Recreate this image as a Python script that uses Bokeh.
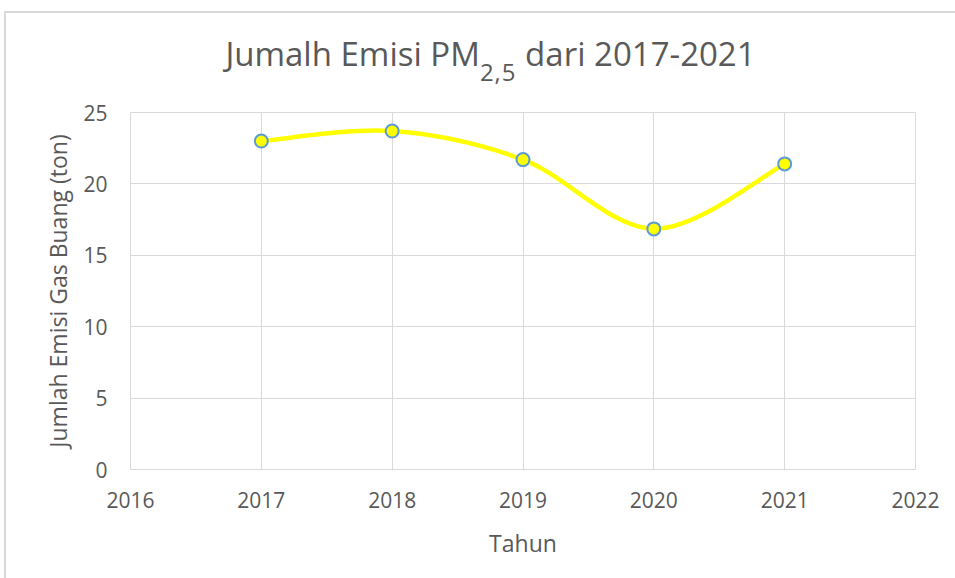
from bokeh.plotting import figure
from bokeh.models import Range1d, FixedTicker, Div
from bokeh.layouts import column
from bokeh.embed import file_html
from bokeh.resources import INLINE

# ---- data ----
years = [2017, 2018, 2019, 2020, 2021]
emisi = [23.0, 23.7, 21.7, 16.85, 21.4]
x_ticks = [2016, 2017, 2018, 2019, 2020, 2021, 2022]
y_ticks = [0, 5, 10, 15, 20, 25]
title_main = "Jumalh Emisi PM"
title_sub = "2,5"
title_rest = "dari 2017-2021"
x_label = "Tahun"
y_label = "Jumlah Emisi Gas Buang (ton)"

FONT = "Open Sans"
TXT = "#595959"
GRID = "#d9d9d9"

title_div = Div(
    text=(f'<div style="font-family:\'{FONT}\';font-size:33px;line-height:33px;color:{TXT};'
          f'text-align:center;width:914px;padding-top:24px;padding-left:35px;white-space:nowrap;'
          f'position:relative;left:10px;">'
          f'{title_main}<span style="font-size:24px;letter-spacing:1px;position:relative;top:15px;">'
          f'{title_sub}</span> {title_rest}</div>'),
    width=949, height=80, margin=0)

p = figure(width=949, height=485, output_backend="svg", toolbar_location=None,
           x_range=Range1d(2016, 2022), y_range=Range1d(0, 25),
           min_border_left=124, min_border_right=40, min_border_top=19, min_border_bottom=109,
           margin=0)
p.title = None
p.outline_line_color = GRID
p.outline_line_width = 1

for ax in (p.xaxis[0], p.yaxis[0]):
    ax.axis_line_color = None
    ax.major_tick_line_color = None
    ax.minor_tick_line_color = None
    ax.major_label_text_font = FONT
    ax.major_label_text_color = TXT
    ax.major_label_text_font_size = "21px"
    ax.axis_label_text_font = FONT
    ax.axis_label_text_color = TXT
    ax.axis_label_text_font_size = "23px"
    ax.axis_label_text_font_style = "normal"

p.xaxis.ticker = FixedTicker(ticks=x_ticks)
p.yaxis.ticker = FixedTicker(ticks=y_ticks)
p.xaxis.axis_label = x_label
p.yaxis.axis_label = y_label
p.xaxis.major_label_standoff = 16
p.yaxis.major_label_standoff = 17
p.xaxis.axis_label_standoff = 16
p.yaxis.axis_label_standoff = 6

p.xgrid.grid_line_color = GRID
p.ygrid.grid_line_color = GRID
p.xgrid.ticker = FixedTicker(ticks=x_ticks)
p.ygrid.ticker = FixedTicker(ticks=y_ticks)

# smoothed line (cardinal / Catmull-Rom style bezier, like Excel smoothing)
n = len(years)
x0s, y0s, x1s, y1s, cx0s, cy0s, cx1s, cy1s = [], [], [], [], [], [], [], []
for i in range(n - 1):
    xm1, ym1 = (years[i - 1], emisi[i - 1]) if i > 0 else (years[i], emisi[i])
    xp2, yp2 = (years[i + 2], emisi[i + 2]) if i + 2 < n else (years[i + 1], emisi[i + 1])
    x0s.append(years[i]); y0s.append(emisi[i])
    x1s.append(years[i + 1]); y1s.append(emisi[i + 1])
    cx0s.append(years[i] + (years[i + 1] - xm1) / 6)
    cy0s.append(emisi[i] + (emisi[i + 1] - ym1) / 6)
    cx1s.append(years[i + 1] - (xp2 - years[i]) / 6)
    cy1s.append(emisi[i + 1] - (yp2 - emisi[i]) / 6)
p.bezier(x0=x0s, y0=y0s, x1=x1s, y1=y1s, cx0=cx0s, cy0=cy0s, cx1=cx1s, cy1=cy1s,
         line_color="#ffff00", line_width=4.5, line_cap="round")
p.scatter(years, emisi, size=13, fill_color="#ffff00", line_color="#5b9bd5", line_width=2)

layout = column(title_div, p, spacing=0)
layout.styles = {"border-top": "2px solid #d9d9d9", "border-left": "2px solid #d9d9d9",
                 "margin-left": "4px", "margin-top": "11px"}

open("out.html", "w").write(file_html(layout, INLINE))
